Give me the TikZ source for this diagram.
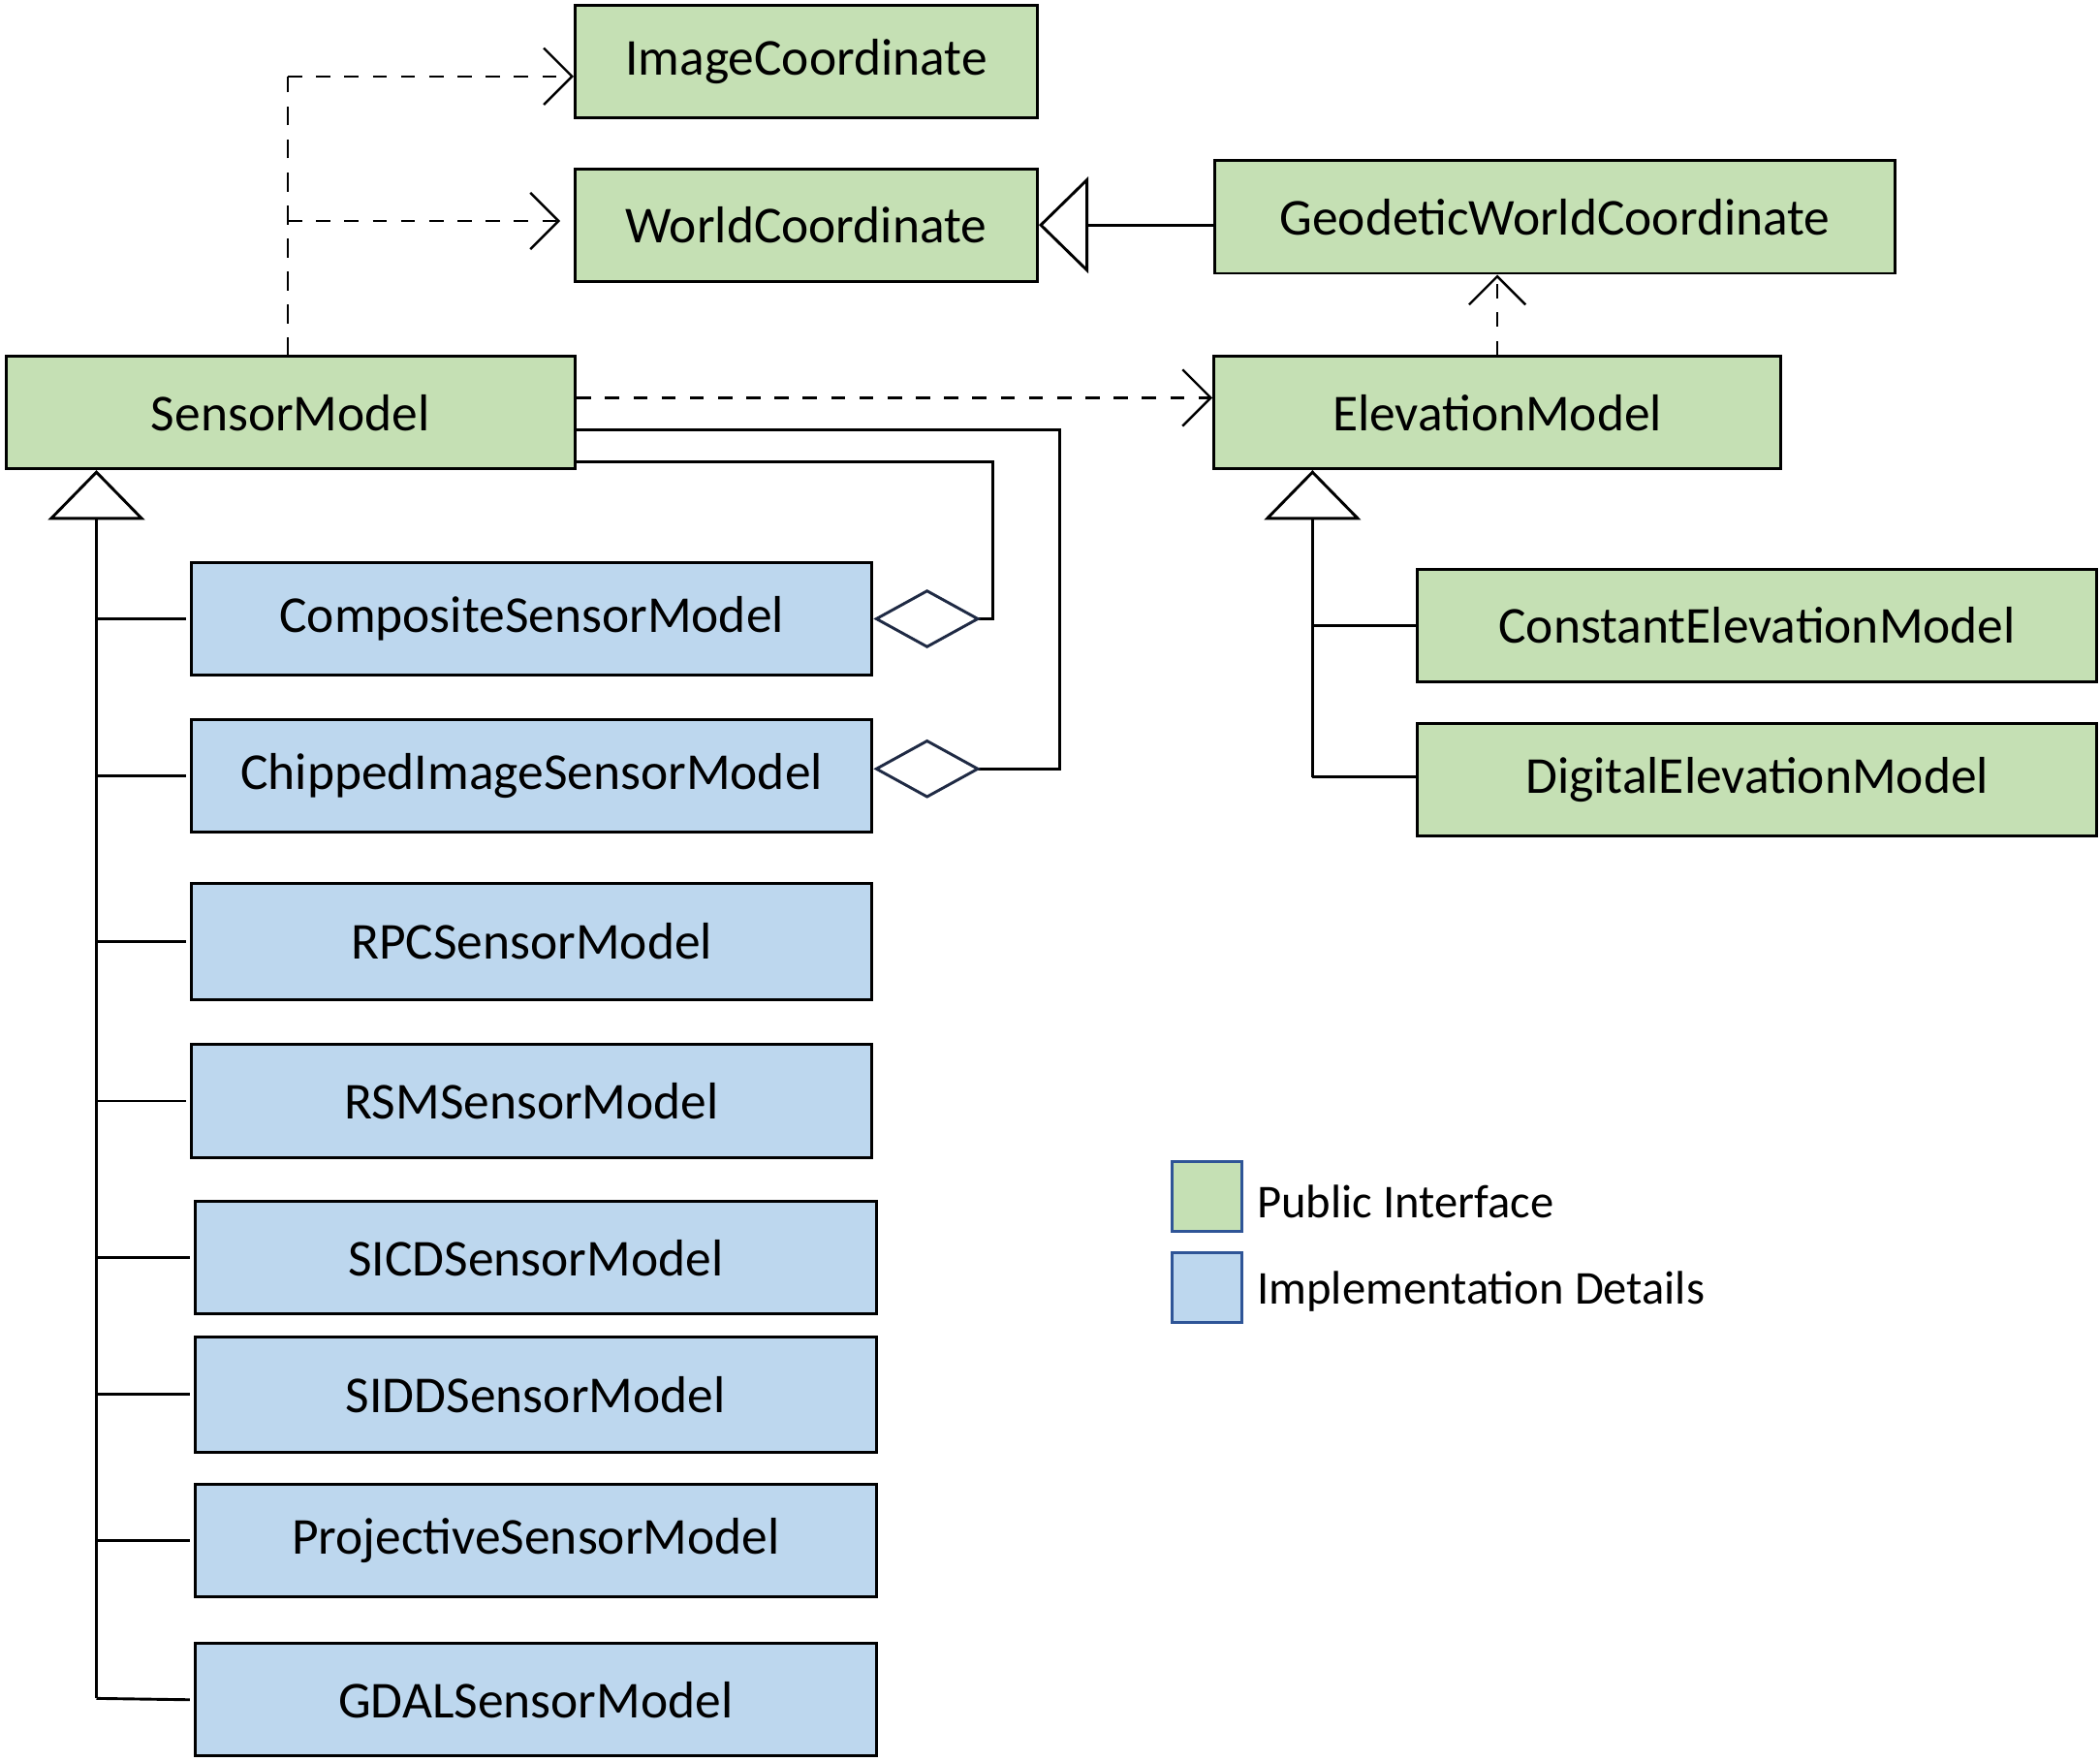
\documentclass[tikz,border=0pt]{standalone}
\usepackage{fontspec}
\setmainfont{Carlito}
\usetikzlibrary{arrows.meta}
\definecolor{pubgreen}{HTML}{C5E0B4}
\definecolor{implblue}{HTML}{BDD7EE}
\definecolor{legendedge}{HTML}{2F5597}
\definecolor{diaedge}{HTML}{1F2A44}

\tikzset{
  cls/.style={draw=black, line width=0.6pt, minimum height=0.84cm,
    inner sep=0pt, font=\fontsize{11}{13}\selectfont},
  pub/.style={cls, fill=pubgreen},
  impl/.style={cls, fill=implblue, minimum width=5.08cm},
  dep/.style={dashed, line width=0.5pt, -{Straight Barb[length=6pt,width=12pt]}},
  inherit/.style={line width=0.6pt, -{Triangle[open,length=0.37cm,width=0.72cm]}},
  aggr/.style={line width=0.6pt, -{Diamond[open,length=0.8cm,width=0.44cm,color=diaedge]}},
  key/.style={draw=legendedge, line width=0.6pt, minimum size=0.52cm, inner sep=0pt}
}

\begin{document}
\begin{tikzpicture}[x=0.01cm, y=-0.01cm]
  \useasboundingbox (0,0) rectangle (1568,1315);

  % Public interface
  \node[pub, minimum width=3.45cm] (image) at (602,46) {ImageCoordinate};
  \node[pub, minimum width=3.45cm] (world) at (602,168) {WorldCoordinate};
  \node[pub, minimum width=5.08cm] (geodetic) at (1161,162) {GeodeticWorldCoordinate};
  \node[pub, minimum width=4.25cm] (sensor) at (217,308) {SensorModel};
  \node[pub, minimum width=4.23cm] (elevation) at (1118,308) {ElevationModel};
  \node[pub, minimum width=5.07cm] (constant) at (1312,467) {ConstantElevationModel};
  \node[pub, minimum width=5.07cm] (digital) at (1312,582) {DigitalElevationModel};

  % Implementation details
  \node[impl] (composite) at (397,462) {CompositeSensorModel};
  \node[impl] (chipped) at (397,579) {ChippedImageSensorModel};
  \node[impl, minimum height=0.87cm] (rpc) at (397,703) {RPCSensorModel};
  \node[impl] (rsm) at (397,822) {RSMSensorModel};
  \node[impl] (sicd) at (400,939) {SICDSensorModel};
  \node[impl, minimum height=0.86cm] (sidd) at (400,1041) {SIDDSensorModel};
  \node[impl] (projective) at (400,1150) {ProjectiveSensorModel};
  \node[impl] (gdal) at (400,1269) {GDALSensorModel};

  % Dependencies
  \coordinate (sm-up) at (215,266);
  \coordinate (sm-top) at (215,57);
  \coordinate (sm-mid) at (215,165);
  \draw[dash pattern=on 4pt off 3pt, line width=0.5pt] (sm-up) -- (sm-top);
  \draw[dep] (sm-top) -- (image.west |- sm-top);
  \draw[dep] (sm-mid) -- ([xshift=-0.1cm]world.west |- sm-mid);
  \draw[dep] (sensor.east |- 0,297) -- (elevation.west |- 0,297);
  \draw[dep] (elevation.north) -- (geodetic.south -| elevation.north);
  \draw[inherit] (geodetic.west |- world.east) -- (world.east);

  % Aggregations
  \coordinate (c-turn) at (741,345);
  \coordinate (p-turn) at (791,321);
  \draw[aggr] (sensor.east |- c-turn) -- (c-turn) -- (c-turn |- composite.east) -- (composite.east);
  \draw[aggr] (sensor.east |- p-turn) -- (p-turn) -- (p-turn |- 0,574) -- (chipped.east |- 0,574);

  % Sensor model hierarchy
  \coordinate (sm-apex) at (72,351);
  \coordinate (sm-foot) at (72,1268);
  \draw[inherit] (sm-foot) -- (sm-apex);
  \foreach \sub in {composite,chipped,rpc,rsm,sicd,sidd,projective}
    \draw[line width=0.6pt] (sm-apex |- \sub.west) -- ([xshift=-0.03cm]\sub.west);
  \draw[line width=0.6pt] (sm-foot) -- ([xshift=-0.03cm]gdal.west);

  % Elevation hierarchy
  \coordinate (el-apex) at (980,351);
  \coordinate (el-foot) at (980,580);
  \draw[inherit] (el-foot) -- (el-apex);
  \draw[line width=0.6pt] (el-apex |- constant.west) -- (constant.west);
  \draw[line width=0.6pt] (el-foot) -- (digital.west |- el-foot);

  % Legend
  \node[key, fill=pubgreen] (key-pub) at (901,893) {};
  \node[key, fill=implblue] (key-impl) at (901,961) {};
  \node[anchor=west, inner sep=0pt, font=\fontsize{10}{12}\selectfont] (txt-pub) at (938,897) {Public Interface};
  \node[anchor=west, inner sep=0pt, font=\fontsize{10}{12}\selectfont] (txt-impl) at (938,964) {Implementation Details};
\end{tikzpicture}
\end{document}
